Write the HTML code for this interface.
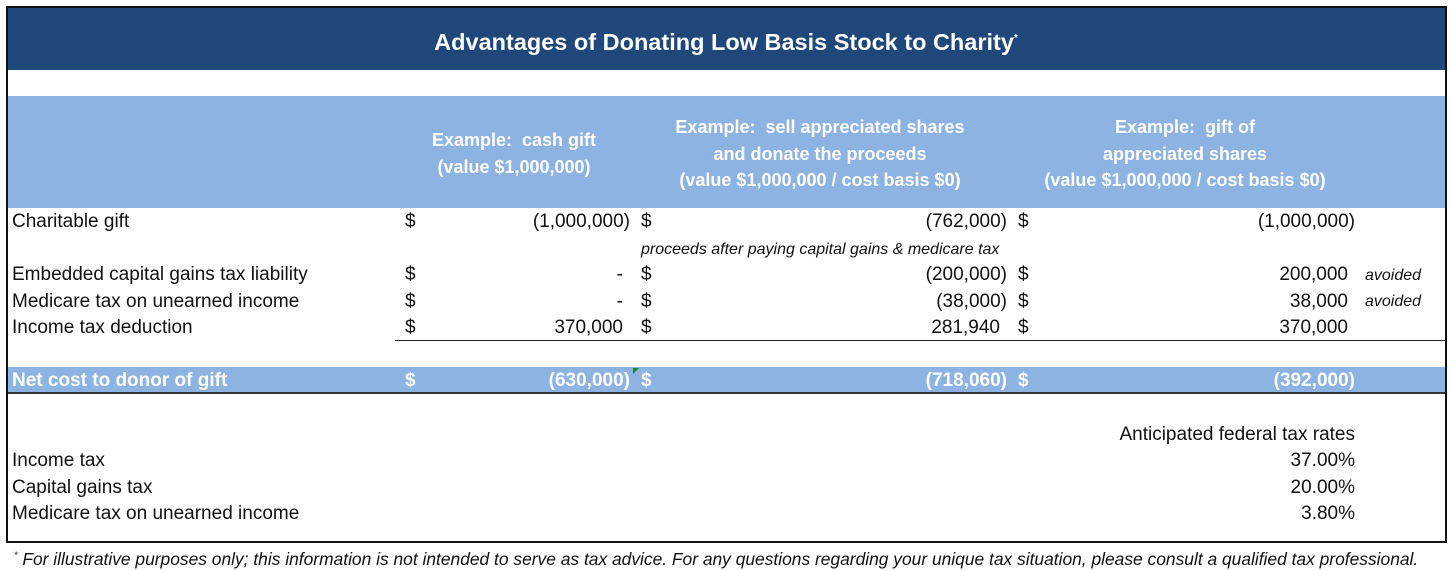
<!DOCTYPE html>
<html><head><style>
body{margin:0;width:1452px;height:571px;background:#fff;position:relative;overflow:hidden;font-family:"Liberation Sans",sans-serif;color:#111}
.a{position:absolute;white-space:nowrap;font-size:19px;line-height:20px}
.r{text-align:right}
.c{text-align:center;transform:translateX(-50%)}
.h{color:#fff;font-weight:bold;font-size:18px;line-height:26.5px}
.i{font-style:italic;font-size:16px}
.w{color:#fff;font-weight:bold}
</style></head><body>
<div style="position:absolute;left:6px;top:6px;width:1437px;height:533px;border:2px solid #111"></div>
<div style="position:absolute;left:8px;top:8px;width:1437px;height:62px;background:#20477a"></div>
<div style="position:absolute;left:8px;top:96px;width:1437px;height:112px;background:#8db3e2"></div>
<div style="position:absolute;left:8px;top:367px;width:1437px;height:25px;background:#8db3e2;border-bottom:2px solid #333"></div>
<div style="position:absolute;left:395px;top:340px;width:1050px;height:1px;background:#222"></div>
<div class="a c" style="left:726px;top:27px;color:#fff;font-weight:bold;font-size:23.5px;line-height:24px">Advantages of Donating Low Basis Stock to Charity<sup style="font-size:10px">*</sup></div>
<div class="a c h" style="left:514px;top:127px">Example:&nbsp; cash gift<br>(value $1,000,000)</div>
<div class="a c h" style="left:820px;top:114px">Example:&nbsp; sell appreciated shares<br>and donate the proceeds<br>(value $1,000,000 / cost basis $0)</div>
<div class="a c h" style="left:1185px;top:114px">Example:&nbsp; gift of<br>appreciated shares<br>(value $1,000,000 / cost basis $0)</div>

<div class="a" style="left:12px;top:212px">Charitable gift</div>
<div class="a" style="left:12px;top:265px">Embedded capital gains tax liability</div>
<div class="a" style="left:12px;top:292px">Medicare tax on unearned income</div>
<div class="a" style="left:12px;top:318px">Income tax deduction</div>
<div class="a w" style="left:12px;top:371px">Net cost to donor of gift</div>

<div class="a" style="left:405px;top:212px">$</div><div class="a" style="left:641px;top:212px">$</div><div class="a" style="left:1018px;top:212px">$</div>
<div class="a" style="left:405px;top:265px">$</div><div class="a" style="left:641px;top:265px">$</div><div class="a" style="left:1018px;top:265px">$</div>
<div class="a" style="left:405px;top:292px">$</div><div class="a" style="left:641px;top:292px">$</div><div class="a" style="left:1018px;top:292px">$</div>
<div class="a" style="left:405px;top:318px">$</div><div class="a" style="left:641px;top:318px">$</div><div class="a" style="left:1018px;top:318px">$</div>

<div class="a r" style="left:430px;width:200px;top:212px">(1,000,000)</div>
<div class="a r" style="left:430px;width:193px;top:265px">-</div>
<div class="a r" style="left:430px;width:193px;top:292px">-</div>
<div class="a r" style="left:430px;width:193px;top:318px">370,000</div>
<div class="a r" style="left:800px;width:207px;top:212px">(762,000)</div>
<div class="a r" style="left:800px;width:207px;top:265px">(200,000)</div>
<div class="a r" style="left:800px;width:207px;top:292px">(38,000)</div>
<div class="a r" style="left:800px;width:200px;top:318px">281,940</div>
<div class="a r" style="left:1150px;width:205px;top:212px">(1,000,000)</div>
<div class="a r" style="left:1150px;width:198px;top:265px">200,000</div>
<div class="a r" style="left:1150px;width:198px;top:292px">38,000</div>
<div class="a r" style="left:1150px;width:198px;top:318px">370,000</div>

<div class="a i" style="left:641px;top:240px">proceeds after paying capital gains &amp; medicare tax</div>
<div class="a i" style="left:1365px;top:266px">avoided</div>
<div class="a i" style="left:1365px;top:292px">avoided</div>
<div class="a w" style="left:405px;top:371px">$</div>
<div class="a w" style="left:641px;top:371px">$</div>
<div class="a w" style="left:1018px;top:371px">$</div>
<div class="a w r" style="left:430px;width:200px;top:371px">(630,000)</div>
<div class="a w r" style="left:800px;width:207px;top:371px">(718,060)</div>
<div class="a w r" style="left:1150px;width:205px;top:371px">(392,000)</div>
<div style="position:absolute;left:633px;top:368px;width:0;height:0;border-top:6px solid #1a8a2a;border-right:6px solid transparent"></div>

<div class="a r" style="left:1000px;width:355px;top:425px">Anticipated federal tax rates</div>
<div class="a" style="left:12px;top:451px">Income tax</div>
<div class="a" style="left:12px;top:478px">Capital gains tax</div>
<div class="a" style="left:12px;top:504px">Medicare tax on unearned income</div>
<div class="a r" style="left:1150px;width:205px;top:451px">37.00%</div>
<div class="a r" style="left:1150px;width:205px;top:478px">20.00%</div>
<div class="a r" style="left:1150px;width:205px;top:504px">3.80%</div>
<div class="a" style="left:14px;top:545px;font-style:italic;font-size:17.4px"><sup style="font-size:9px">*</sup> For illustrative purposes only; this information is not intended to serve as tax advice. For any questions regarding your unique tax situation, please consult a qualified tax professional.</div>
</body></html>
